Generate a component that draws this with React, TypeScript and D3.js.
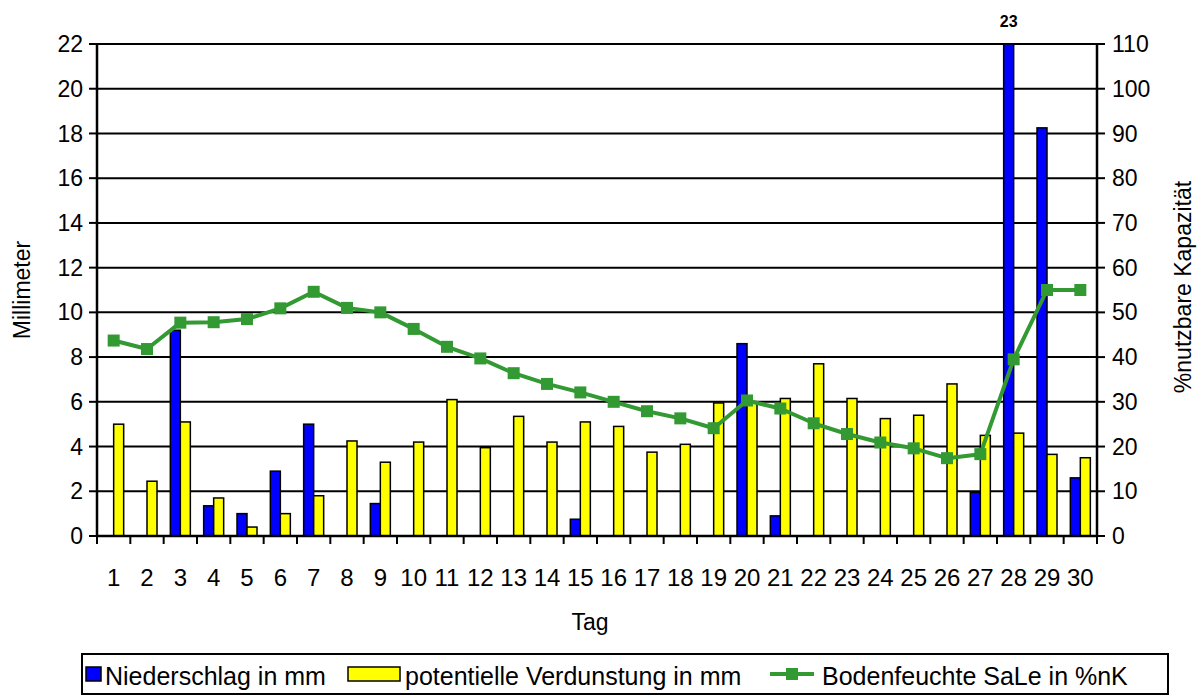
import React from "react";
import * as d3 from "d3";

const days: string[] = Array.from({ length: 30 }, (_, i) => String(i + 1));
const niederschlag: number[] = [0, 0, 9.2, 1.35, 1.0, 2.9, 5.0, 0, 1.45, 0, 0, 0, 0, 0, 0.75, 0, 0, 0, 0, 8.6, 0.9, 0, 0, 0, 0, 0, 1.95, 23, 18.25, 2.6];
const verdunstung: number[] = [5.0, 2.45, 5.1, 1.7, 0.4, 1.0, 1.8, 4.25, 3.3, 4.2, 6.1, 3.95, 5.35, 4.2, 5.1, 4.9, 3.75, 4.1, 5.95, 6.0, 6.15, 7.7, 6.15, 5.25, 5.4, 6.8, 4.5, 4.6, 3.65, 3.5];
const bodenfeuchte: number[] = [43.7, 41.8, 47.7, 47.8, 48.5, 50.9, 54.6, 51.0, 50.0, 46.3, 42.3, 39.7, 36.4, 34.0, 32.1, 30.0, 27.9, 26.3, 24.1, 30.3, 28.5, 25.2, 22.8, 20.9, 19.6, 17.4, 18.3, 39.5, 55.0, 55.0];
const leftTicks: number[] = [0, 2, 4, 6, 8, 10, 12, 14, 16, 18, 20, 22];
const rightTicks: number[] = [0, 10, 20, 30, 40, 50, 60, 70, 80, 90, 100, 110];
const seriesNames: string[] = ["Niederschlag in mm", "potentielle Verdunstung in mm", "Bodenfeuchte SaLe in %nK"];

const FONT = "'Liberation Sans', Arial, sans-serif";
const BLUE = "#0000ff";
const YELLOW = "#ffff00";
const GREEN = "#339933";

export default function App() {
  const L = 97, R = 1097, T = 44, B = 536;
  const x = d3.scaleBand<string>().domain(days).range([L, R]).paddingInner(0).paddingOuter(0);
  const inner = d3.scaleBand<string>().domain(["n", "v"]).range([0, 20]);
  const y = d3.scaleLinear().domain([0, 22]).range([B, T]);
  const y2 = d3.scaleLinear().domain([0, 110]).range([B, T]);
  const cx = (d: string) => (x(d) as number) + x.bandwidth() / 2;
  const line = d3
    .line<number>()
    .x((_, i) => cx(days[i]))
    .y((v) => y2(v));
  const yMax = 22;

  return (
    <svg width={1203} height={698} style={{ display: "block", position: "absolute", left: 0, top: 0, background: "#fff" }} fontFamily={FONT}>
      <rect x={0} y={0} width={1203} height={698} fill="#fff" />
      {leftTicks.filter((t) => t > 0).map((t) => (
        <line key={"g" + t} x1={L} x2={R} y1={y(t)} y2={y(t)} stroke="#000" strokeWidth={2} />
      ))}
      {days.map((d, i) => {
        const x0 = cx(d) - 10;
        const vN = Math.min(niederschlag[i], yMax);
        const vV = Math.min(verdunstung[i], yMax);
        return (
          <g key={"b" + d}>
            {vN > 0 && (
              <rect x={x0 + (inner("n") as number)} y={y(vN)} width={inner.bandwidth()} height={y(0) - y(vN)} fill={BLUE} stroke="#000" strokeWidth={1.5} />
            )}
            {vV > 0 && (
              <rect x={x0 + (inner("v") as number)} y={y(vV)} width={inner.bandwidth()} height={y(0) - y(vV)} fill={YELLOW} stroke="#000" strokeWidth={1.5} />
            )}
            {niederschlag[i] > yMax && (
              <text x={x0 + (inner("n") as number) + inner.bandwidth() / 2} y={y(yMax) - 17} textAnchor="middle" fontSize={16} fontWeight="bold">
                {niederschlag[i]}
              </text>
            )}
          </g>
        );
      })}
      <path d={line(bodenfeuchte) || ""} fill="none" stroke={GREEN} strokeWidth={4} strokeLinejoin="round" />
      {bodenfeuchte.map((v, i) => (
        <rect key={"m" + i} x={cx(days[i]) - 6} y={y2(v) - 6} width={12} height={12} fill={GREEN} />
      ))}
      <line x1={L} x2={L} y1={T - 1} y2={B + 1} stroke="#000" strokeWidth={2.5} />
      <line x1={R} x2={R} y1={T - 1} y2={B + 1} stroke="#000" strokeWidth={2.5} />
      <line x1={L} x2={R} y1={B} y2={B} stroke="#000" strokeWidth={2.5} />
      {leftTicks.map((t) => (
        <g key={"lt" + t}>
          <line x1={L - 8} x2={L} y1={y(t)} y2={y(t)} stroke="#000" strokeWidth={2} />
          <text x={L - 14} y={y(t)} dy="0.35em" textAnchor="end" fontSize={23}>
            {t}
          </text>
        </g>
      ))}
      {rightTicks.map((t) => (
        <g key={"rt" + t}>
          <line x1={R} x2={R + 8} y1={y2(t)} y2={y2(t)} stroke="#000" strokeWidth={2} />
          <text x={R + 15} y={y2(t)} dy="0.35em" textAnchor="start" fontSize={23}>
            {t}
          </text>
        </g>
      ))}
      {days.map((d) => (
        <g key={"xt" + d}>
          <line x1={x(d) as number} x2={x(d) as number} y1={B} y2={B + 8} stroke="#000" strokeWidth={2} />
          <text x={cx(d)} y={578} dy="0.35em" textAnchor="middle" fontSize={24}>
            {d}
          </text>
        </g>
      ))}
      <line x1={R} x2={R} y1={B} y2={B + 8} stroke="#000" strokeWidth={2} />
      <text x={590} y={622} dy="0.35em" textAnchor="middle" fontSize={23}>Tag</text>
      <text transform="translate(22,290) rotate(-90)" dy="0.35em" textAnchor="middle" fontSize={23}>Millimeter</text>
      <text transform="translate(1183,287) rotate(-90)" dy="0.35em" textAnchor="middle" fontSize={23}>%nutzbare Kapazität</text>
      <g>
        <rect x={82} y={654} width={1086} height={40} fill="#fff" stroke="#000" strokeWidth={2} />
        <rect x={86} y={667} width={15} height={14} fill={BLUE} stroke="#000" strokeWidth={1.5} />
        <text x={105} y={676} dy="0.35em" fontSize={25}>{seriesNames[0]}</text>
        <rect x={348} y={667} width={52} height={14} fill={YELLOW} stroke="#000" strokeWidth={1.5} />
        <text x={405} y={676} dy="0.35em" fontSize={25}>{seriesNames[1]}</text>
        <line x1={770} x2={814} y1={674} y2={674} stroke={GREEN} strokeWidth={4} />
        <rect x={786} y={668} width={12} height={12} fill={GREEN} />
        <text x={822} y={676} dy="0.35em" fontSize={25}>{seriesNames[2]}</text>
      </g>
    </svg>
  );
}
